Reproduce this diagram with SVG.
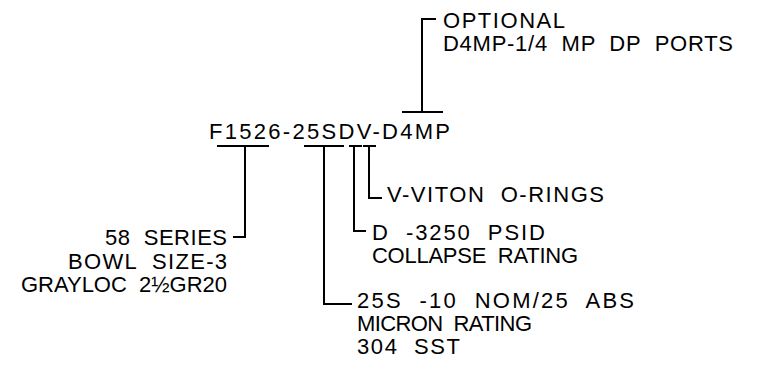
<svg xmlns="http://www.w3.org/2000/svg" width="775" height="365" viewBox="0 0 775 365" xml:space="preserve">
<style>
text{font-family:"Liberation Sans",Arial,sans-serif;font-size:22px;fill:#000;white-space:pre;}
.l{stroke:#000;stroke-width:2;fill:none;}
</style>
<rect width="775" height="365" fill="#fff"/>
<g id="connectors">
<polyline class="l" points="436,19 422,19 422,112"/>
<line class="l" x1="402" y1="112" x2="443" y2="112"/>
<line class="l" x1="217" y1="146" x2="269" y2="146"/>
<polyline class="l" points="245,146 245,237 233,237"/>
<line class="l" x1="304" y1="146" x2="344" y2="146"/>
<polyline class="l" points="324,146 324,304 352,304"/>
<line class="l" x1="349" y1="146" x2="362" y2="146"/>
<polyline class="l" points="354,146 354,231 366,231"/>
<line class="l" x1="363" y1="146" x2="376" y2="146"/>
<polyline class="l" points="369,146 369,198 382,198"/>
</g>
<g id="part-number"><text x="209" y="139" textLength="241" lengthAdjust="spacing">F1526-25SDV-D4MP</text></g>
<g id="optional">
<text x="443" y="28" textLength="122" lengthAdjust="spacing">OPTIONAL</text>
<text x="443" y="51" textLength="290" lengthAdjust="spacing">D4MP-1/4  MP  DP  PORTS</text>
</g>
<g id="series">
<text x="105" y="245" textLength="122" lengthAdjust="spacing">58  SERIES</text>
<text x="68" y="269" textLength="159" lengthAdjust="spacing">BOWL  SIZE-3</text>
<text x="21" y="292" textLength="206" lengthAdjust="spacing">GRAYLOC  2½GR20</text>
</g>
<g id="viton"><text x="387" y="202" textLength="217" lengthAdjust="spacing">V-VITON  O-RINGS</text></g>
<g id="collapse">
<text x="372" y="240" textLength="173" lengthAdjust="spacing">D  -3250  PSID</text>
<text x="372" y="263" textLength="206" lengthAdjust="spacing">COLLAPSE  RATING</text>
</g>
<g id="micron">
<text x="357" y="308" textLength="277" lengthAdjust="spacing">25S  -10  NOM/25  ABS</text>
<text x="357" y="331" textLength="175" lengthAdjust="spacing">MICRON  RATING</text>
<text x="357" y="354" textLength="103" lengthAdjust="spacing">304  SST</text>
</g>
</svg>
